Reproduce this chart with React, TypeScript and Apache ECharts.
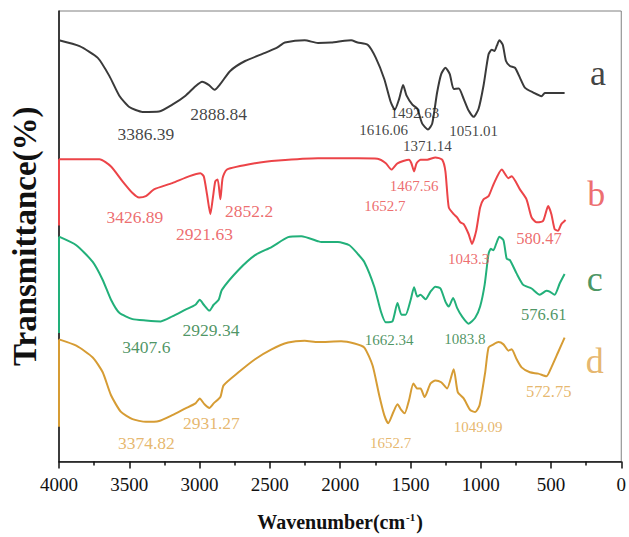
import React, { useEffect, useRef } from "react";
import * as echarts from "echarts";

// Spectra: [wavenumber (cm-1), transmittance (a.u., offset)]
const CURVE_A: [number, number][] = [
  [4000, 93.5], [3854, 92.2], [3724, 89.6], [3642, 85.6], [3571, 81.2], [3500, 78.7], [3406, 77.6],
  [3288, 77.7], [3194, 79.2], [3100, 81.2], [3029, 83.3], [2982, 84.3], [2935, 83.6], [2893, 82.5],
  [2852, 83.8], [2782, 86.7], [2676, 88.9], [2534, 90.7], [2452, 91.8], [2428, 92.3], [2393, 93.0],
  [2252, 93.5], [2158, 92.9], [2064, 93.0], [1969, 93.4], [1922, 93.5], [1875, 93.0], [1804, 92.5],
  [1746, 89.6], [1686, 84.9], [1640, 79.8], [1611, 78.1], [1580, 80.5], [1552, 83.6], [1527, 81.2],
  [1486, 79.2], [1451, 78.3], [1416, 75.0], [1375, 73.7], [1345, 75.0], [1310, 81.9], [1281, 86.0],
  [1251, 87.4], [1220, 86.0], [1192, 82.7], [1156, 82.8], [1121, 80.5], [1086, 77.9], [1050, 76.5],
  [1015, 78.3], [980, 83.4], [944, 90.4], [921, 91.4], [902, 91.1], [885, 92.3], [867, 93.5],
  [843, 92.5], [820, 88.9], [792, 87.8], [756, 87.4], [721, 85.2], [686, 83.0], [626, 81.9],
  [567, 81.1], [544, 81.8], [509, 81.8], [403, 81.8],
];

const CURVE_B: [number, number][] = [
  [4000, 67.1], [3712, 67.1], [3630, 65.5], [3548, 62.2], [3477, 59.6], [3430, 58.6], [3382, 58.9],
  [3324, 60.4], [3194, 61.8], [3076, 63.3], [2994, 64.0], [2970, 63.3], [2947, 59.3], [2923, 54.9],
  [2905, 58.6], [2888, 62.2], [2871, 62.6], [2852, 58.2], [2836, 62.9], [2806, 64.8], [2605, 66.2],
  [2440, 66.8], [2158, 67.3], [1875, 67.3], [1734, 67.2], [1675, 66.2], [1635, 64.8], [1592, 66.2],
  [1510, 67.0], [1493, 66.2], [1474, 64.4], [1456, 66.2], [1428, 67.0], [1380, 67.0], [1322, 67.5],
  [1274, 67.0], [1251, 64.4], [1227, 56.4], [1192, 54.9], [1168, 54.2], [1145, 53.1], [1121, 52.7],
  [1086, 50.5], [1062, 48.3], [1032, 51.2], [1004, 56.4], [980, 58.2], [944, 58.9], [909, 61.5],
  [850, 64.8], [803, 62.9], [780, 63.3], [721, 60.4], [674, 58.2], [638, 54.2], [603, 53.1],
  [556, 53.4], [520, 56.7], [497, 54.9], [474, 51.6], [450, 51.2], [426, 52.7], [396, 53.6],
];

const CURVE_C: [number, number][] = [
  [4000, 49.9], [3877, 48.0], [3760, 44.3], [3689, 40.3], [3630, 35.9], [3571, 33.0], [3477, 31.6],
  [3382, 31.3], [3276, 31.1], [3194, 32.2], [3100, 33.7], [3029, 34.8], [2999, 35.9], [2970, 34.8],
  [2930, 33.5], [2900, 34.8], [2864, 35.9], [2841, 38.1], [2723, 42.5], [2605, 45.8], [2488, 47.6],
  [2370, 49.8], [2276, 50.0], [2158, 48.9], [2134, 48.7], [2016, 48.7], [1934, 48.0], [1875, 46.1],
  [1828, 44.3], [1757, 38.8], [1710, 33.3], [1675, 30.9], [1628, 31.1], [1592, 35.2], [1564, 32.6],
  [1534, 32.6], [1498, 35.9], [1474, 38.7], [1451, 36.6], [1428, 37.0], [1392, 36.0], [1357, 37.7],
  [1322, 38.8], [1286, 38.4], [1251, 35.5], [1227, 34.4], [1196, 36.3], [1168, 34.1], [1133, 32.2],
  [1086, 30.6], [1039, 31.9], [1004, 34.4], [972, 39.2], [944, 46.1], [928, 47.2], [909, 46.9],
  [890, 48.3], [867, 49.9], [838, 49.1], [815, 45.0], [792, 44.7], [744, 41.7], [697, 39.2],
  [638, 38.4], [580, 37.0], [532, 37.9], [509, 37.7], [474, 37.0], [438, 39.5], [403, 41.6],
];

const CURVE_D: [number, number][] = [
  [4000, 27.1], [3877, 25.7], [3760, 23.1], [3689, 19.8], [3630, 14.7], [3559, 11.0], [3477, 9.4],
  [3382, 8.8], [3288, 9.0], [3194, 10.3], [3100, 11.8], [3029, 12.9], [2999, 14.0], [2965, 12.7],
  [2930, 11.9], [2900, 12.9], [2852, 14.3], [2829, 16.9], [2723, 19.8], [2605, 22.7], [2488, 24.9],
  [2370, 26.4], [2252, 26.8], [2158, 26.5], [1993, 26.7], [1898, 26.2], [1828, 25.3], [1769, 21.3],
  [1722, 14.7], [1686, 10.3], [1658, 8.5], [1621, 11.0], [1592, 12.7], [1564, 11.4], [1541, 10.7],
  [1510, 13.6], [1479, 17.3], [1451, 16.2], [1428, 16.2], [1399, 14.3], [1357, 17.3], [1322, 18.0],
  [1281, 17.6], [1239, 16.2], [1192, 20.5], [1163, 15.4], [1121, 14.0], [1074, 11.4], [1039, 11.0],
  [1008, 12.5], [968, 19.8], [944, 25.3], [909, 26.0], [874, 26.5], [838, 26.0], [803, 24.6],
  [780, 24.9], [744, 22.7], [709, 20.9], [650, 19.8], [591, 19.5], [532, 18.9], [497, 20.9],
  [450, 24.2], [403, 27.5],
];

// value each trace drops to at the 4000 cm-1 edge
const EDGE_DROP = [68.4, 52.4, 28.5, 7.7];

// peak annotations: [text, wavenumber anchor, transmittance anchor]
const PEAKS_A: [string, number, number][] = [
  ["3386.39", 3382, 72.8], ["2888.84", 2864, 77.2], ["1616.06", 1690, 73.5],
  ["1492.63", 1468, 77.3], ["1371.14", 1380, 70.0], ["1051.01", 1050, 73.3],
];
const PEAKS_B: [string, number, number][] = [
  ["3426.89", 3460, 54.3], ["2921.63", 2965, 50.4], ["2852.2", 2647, 55.6],
  ["1652.7", 1682, 56.7], ["1467.56", 1474, 61.1], ["1043.3", 1086, 45.0], ["580.47", 585, 49.4],
];
const PEAKS_C: [string, number, number][] = [
  ["3407.6", 3378, 25.5], ["2929.34", 2919, 29.2], ["1662.34", 1651, 27.0],
  ["1083.8", 1112, 27.3], ["576.61", 551, 32.7],
];
const PEAKS_D: [string, number, number][] = [
  ["3374.82", 3378, 4.2], ["2931.27", 2916, 8.5], ["1652.7", 1640, 4.1],
  ["1049.09", 1018, 7.6], ["572.75", 516, 15.6],
];

// sample tags: [letter, wavenumber, transmittance]
const TAGS: [string, number, number][] = [
  ["a", 165, 86.3], ["b", 178, 59.3], ["c", 188, 40.6], ["d", 188, 22.4],
];

const X_MIN = 0;
const X_MAX = 4000;
const X_STEP = 500;

const FONT = "'Times New Roman', 'Liberation Serif', serif";

const STYLES = [
  { line: "#3a3a3a", text: "#111111", tag: "#111111" },
  { line: "#ec4448", text: "#e8474a", tag: "#e8474a" },
  { line: "#22b07a", text: "#1e7a3c", tag: "#1a7a3a" },
  { line: "#d69c34", text: "#e0a548", tag: "#e0a448" },
];

const CURVES = [CURVE_A, CURVE_B, CURVE_C, CURVE_D];
const PEAKS = [PEAKS_A, PEAKS_B, PEAKS_C, PEAKS_D];

function peakFont(wn: number) {
  if (wn > 2000) return 17.5;
  if (wn < 1000) return 16.5;
  return 15;
}

export default function App() {
  const ref = useRef<HTMLDivElement>(null);

  useEffect(() => {
    document.body.style.margin = "0";
    if (!ref.current) return;
    const chart = echarts.init(ref.current, null, { renderer: "svg" });

    const series: any[] = [];
    CURVES.forEach((data, i) => {
      const st = STYLES[i];
      series.push({
        type: "line",
        data,
        showSymbol: false,
        symbol: "none",
        smooth: 0.2,
        z: 3,
        lineStyle: { color: st.line, width: 2 },
        markLine: {
          silent: true,
          symbol: "none",
          label: { show: false },
          lineStyle: { color: st.line, width: 2, type: "solid" },
          data: [[{ coord: [data[0][0], data[0][1]] }, { coord: [data[0][0], EDGE_DROP[i]] }]],
        },
      });
      series.push({
        type: "scatter",
        symbolSize: 0,
        silent: true,
        z: 4,
        data: PEAKS[i].map(([t, x, y]) => ({
          name: t,
          value: [x, y],
          label: { fontSize: peakFont(x) },
        })),
        label: {
          show: true,
          position: "inside",
          formatter: (p: any) => p.name,
          color: st.text,
          fontFamily: FONT,
          align: "center",
          verticalAlign: "middle",
        },
      });
    });
    series.push({
      type: "scatter",
      symbolSize: 0,
      silent: true,
      z: 4,
      data: TAGS.map(([t, x, y], i) => ({
        name: t,
        value: [x, y],
        label: { color: STYLES[i].tag },
      })),
      label: {
        show: true,
        position: "inside",
        formatter: (p: any) => p.name,
        fontFamily: FONT,
        fontSize: 36,
        align: "center",
        verticalAlign: "middle",
      },
    });

    chart.setOption({
      animation: false,
      backgroundColor: "#ffffff",
      grid: {
        left: 59,
        right: 4,
        top: 11,
        bottom: 70,
        show: true,
        borderColor: "#808080",
        borderWidth: 1,
      },
      xAxis: {
        type: "value",
        min: X_MIN,
        max: X_MAX,
        interval: X_STEP,
        inverse: true,
        name: "Wavenumber(cm{sup|-1})",
        nameLocation: "middle",
        nameGap: 50,
        nameTextStyle: {
          fontFamily: FONT,
          fontSize: 20,
          fontWeight: "bold",
          color: "#111111",
          rich: {
            sup: {
              fontFamily: FONT,
              fontSize: 11,
              fontWeight: "bold",
              color: "#111111",
              verticalAlign: "top",
              padding: [0, 1, 10, 1],
            },
          },
        },
        axisLine: { show: true, onZero: false, lineStyle: { color: "#111111", width: 1.5 } },
        axisTick: { show: true, inside: false, length: 7, lineStyle: { color: "#111111", width: 1.5 } },
        minorTick: { show: true, splitNumber: 2, length: 4, lineStyle: { color: "#111111", width: 1.5 } },
        axisLabel: {
          fontFamily: FONT,
          fontSize: 19,
          color: "#111111",
          margin: 13,
          formatter: (v: number) => String(v),
        },
        splitLine: { show: false },
        minorSplitLine: { show: false },
      },
      yAxis: {
        type: "value",
        min: 0,
        max: 100,
        name: "Transmittance(%)",
        nameLocation: "middle",
        nameRotate: 90,
        nameGap: 18,
        nameTextStyle: {
          fontFamily: FONT,
          fontSize: 33,
          fontWeight: "bold",
          color: "#111111",
        },
        axisLine: { show: true, onZero: false, lineStyle: { color: "#111111", width: 1.5 } },
        axisTick: { show: false },
        axisLabel: { show: false },
        splitLine: { show: false },
      },
      series,
    });

    return () => chart.dispose();
  }, []);

  return <div ref={ref} style={{ width: 629, height: 537 }} />;
}
